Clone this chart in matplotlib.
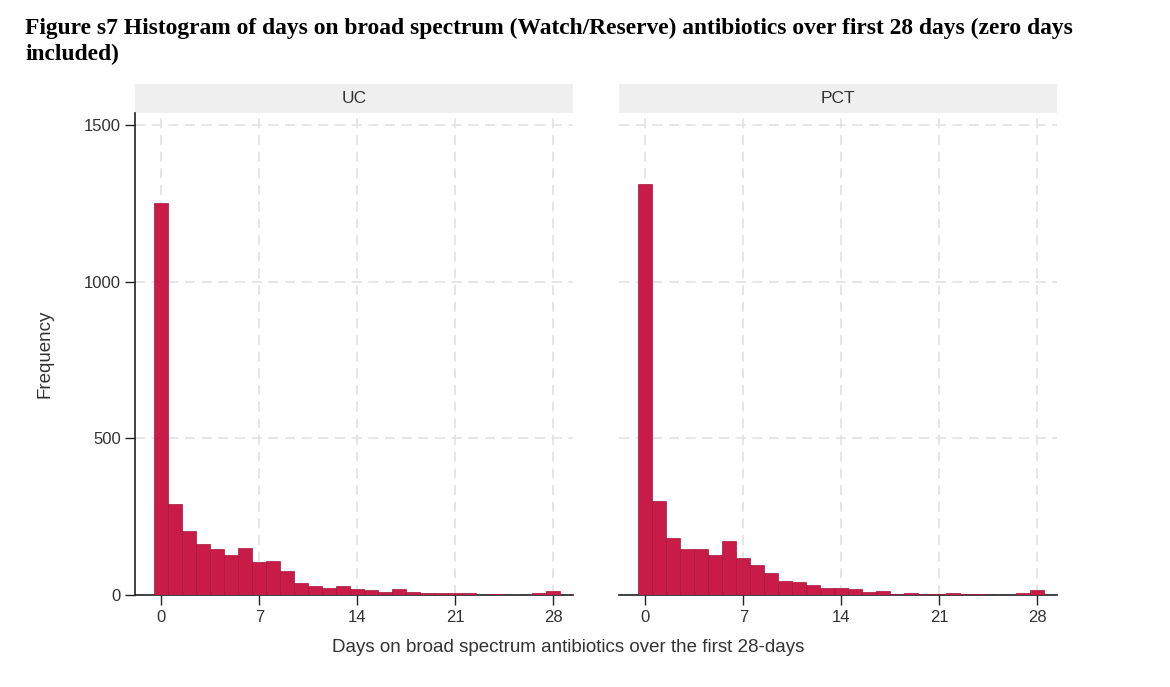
import matplotlib
matplotlib.use("Agg")
import matplotlib.pyplot as plt
from matplotlib.patches import Rectangle

# days 0..28, counts
days = list(range(29))
uc_counts = [1250, 289, 205, 162, 148, 129, 150, 104, 108, 75, 37, 30, 23, 28, 18,
             16, 11, 18, 11, 5, 5, 5, 5, 1, 3, 1, 0, 5, 12]
pct_counts = [1311, 301, 182, 146, 146, 127, 171, 118, 97, 70, 44, 41, 31, 22, 22,
              18, 10, 13, 3, 6, 2, 2, 6, 2, 2, 0, 0, 6, 15]
panels = ["UC", "PCT"]
xticks = [0, 7, 14, 21, 28]
yticks = [0, 500, 1000, 1500]

title = ("Figure s7 Histogram of days on broad spectrum (Watch/Reserve) antibiotics over first 28 days (zero days\n"
         "included)")
xlabel = "Days on broad spectrum antibiotics over the first 28-days"

sans = ["Liberation Sans Narrow", "Liberation Sans", "DejaVu Sans"]
bar_color = "#c81b47"
W, H = 1170, 687

fig = plt.figure(figsize=(W / 100, H / 100), dpi=100)
fig.text(25 / W, 1 - 18 / H, title, family=["Liberation Serif"], weight="bold",
         fontsize=16.9, va="top", ha="left", linespacing=1.32)

def px_axes(x0, x1, y0, y1):
    return fig.add_axes([x0 / W, 1 - y1 / H, (x1 - x0) / W, (y1 - y0) / H])

boxes = [(135, 573), (619, 1057)]
strip_h = 29 / (595 - 113)

for i, (name, counts) in enumerate(zip(panels, [uc_counts, pct_counts])):
    ax = px_axes(boxes[i][0], boxes[i][1], 113, 595)
    ax.bar(days, counts, width=1.0, color=bar_color, edgecolor="#a3163b", linewidth=0.5, zorder=3)
    ax.set_xlim(-1.88, 29.4)
    ax.set_ylim(0, 1538)
    ax.set_xticks(xticks)
    ax.set_yticks(yticks)
    ax.grid(True, color="#e2e2e2", linestyle=(0, (6, 4)), linewidth=1.2, zorder=0)
    for s in ["top", "right"]:
        ax.spines[s].set_visible(False)
    ax.spines["bottom"].set_color("#222222")
    ax.spines["bottom"].set_linewidth(1.2)
    ax.tick_params(axis="x", length=7, width=1, color="#222222", pad=4,
                   labelsize=12, labelcolor="#333333")
    for lab in ax.get_xticklabels():
        lab.set_family(sans)
    if i == 0:
        ax.spines["left"].set_color("#222222")
        ax.spines["left"].set_linewidth(1.2)
        ax.tick_params(axis="y", length=7, width=1, color="#222222", pad=3,
                       labelsize=12, labelcolor="#333333")
        for lab in ax.get_yticklabels():
            lab.set_family(sans)
        ax.set_ylabel("Frequency", family=sans, fontsize=13.5, color="#333333", labelpad=22)
    else:
        ax.spines["left"].set_visible(False)
        ax.tick_params(axis="y", length=0, labelleft=False)
    ax.add_patch(Rectangle((0, 1), 1, strip_h, transform=ax.transAxes, facecolor="#efefef",
                           edgecolor="none", clip_on=False))
    ax.text(0.5, 1 + strip_h / 2, name, transform=ax.transAxes, ha="center", va="center",
            family=sans, fontsize=12.5, color="#333333")

fig.text(568 / W, 1 - 648 / H, xlabel, family=sans, fontsize=13.5, color="#333333",
         ha="center", va="center")

fig.savefig("out.png", dpi=100)
